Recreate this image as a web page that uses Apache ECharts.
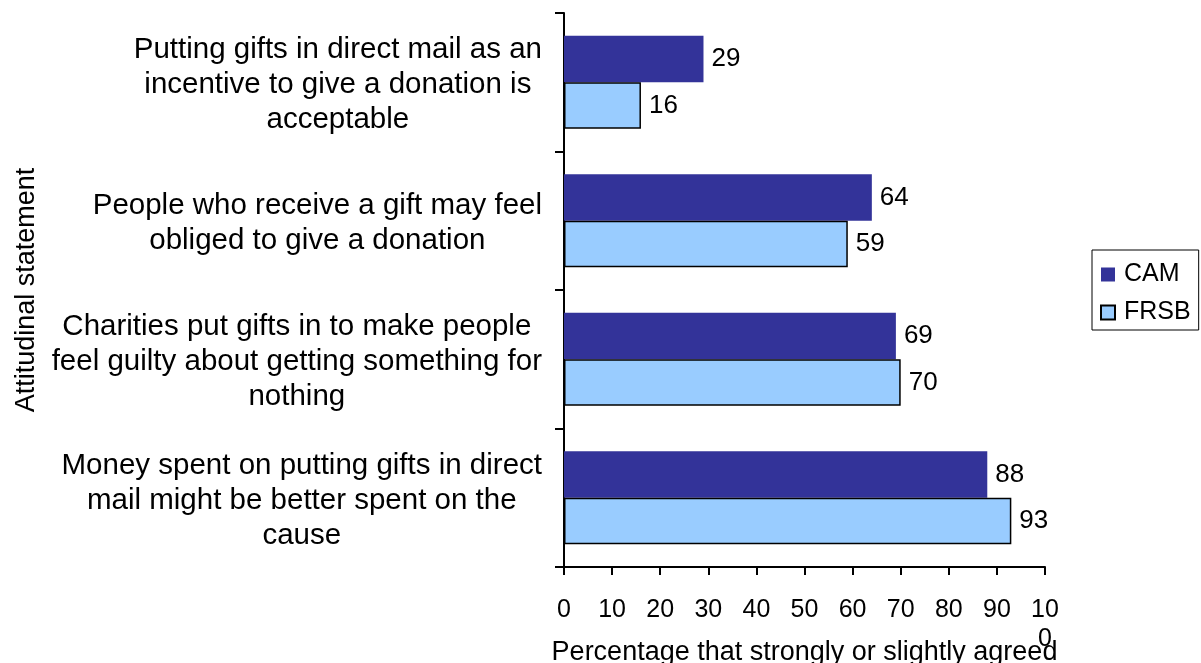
<!DOCTYPE html>
<html>
<head>
<meta charset="utf-8">
<script src="https://cdn.jsdelivr.net/npm/echarts@6/dist/echarts.min.js"></script>
<style>
  html, body { margin: 0; padding: 0; background: #fff; }
  #chart { width: 1201px; height: 663px; }
</style>
</head>
<body>
<div id="chart"></div>
<script>
// Statements, listed top to bottom
const statements = [
  'Putting gifts in direct mail as an\nincentive to give a donation is\nacceptable',
  'People who receive a gift may feel\nobliged to give a donation',
  'Charities put gifts in to make people\nfeel guilty about getting something for\nnothing',
  'Money spent on putting gifts in direct\nmail might be better spent on the\ncause'
];
const camValues = [29, 64, 69, 88];
const frsbValues = [16, 59, 70, 93];
const seriesNames = ['CAM', 'FRSB'];

const FONT = '"Liberation Sans", Arial, sans-serif';
const chart = echarts.init(document.getElementById('chart'), null, { renderer: 'canvas' });

const valueLabel = {
  show: true,
  position: 'right',
  distance: 8,
  color: '#000',
  fontFamily: FONT,
  fontSize: 26,
  padding: [4, 0, 0, 0]
};

chart.setOption({
  animation: false,
  backgroundColor: '#fff',
  textStyle: { fontFamily: FONT, color: '#000' },
  grid: { left: 564, right: 156, top: 13, bottom: 96, containLabel: false, outerBoundsMode: 'none' },
  legend: {
    orient: 'vertical',
    left: 1092,
    top: 250,
    data: seriesNames,
    borderColor: '#000',
    borderWidth: 1,
    padding: [12, 8, 5, 8],
    itemGap: 13,
    itemWidth: 14,
    itemHeight: 14,
    icon: 'rect',
    textStyle: { fontFamily: FONT, fontSize: 25, lineHeight: 25, color: '#000', padding: [0, 0, 0, 4] }
  },
  xAxis: {
    type: 'value',
    min: 0,
    max: 100,
    interval: 10,
    name: 'Percentage that strongly or slightly agreed',
    nameLocation: 'middle',
    nameGap: 72,
    nameMoveOverlap: false,
    nameTextStyle: { fontFamily: FONT, fontSize: 27, color: '#000' },
    axisLine: { show: true, lineStyle: { color: '#000', width: 2 } },
    axisTick: { show: true, length: 8, lineStyle: { color: '#000', width: 2 } },
    splitLine: { show: false },
    axisLabel: {
      margin: 29,
      fontFamily: FONT,
      fontSize: 25,
      lineHeight: 29,
      color: '#000',
      hideOverlap: false,
      formatter: v => (v === 100 ? '10\n0' : String(v))
    }
  },
  yAxis: {
    type: 'category',
    inverse: true,
    data: statements,
    name: 'Attitudinal statement',
    nameLocation: 'middle',
    nameRotate: 90,
    nameGap: 524,
    nameMoveOverlap: false,
    nameTextStyle: { fontFamily: FONT, fontSize: 27, color: '#000' },
    axisLine: { show: true, lineStyle: { color: '#000', width: 2 } },
    axisTick: { show: true, length: 9, lineStyle: { color: '#000', width: 2 } },
    axisLabel: {
      margin: 22,
      align: 'right',
      padding: [6, 0, 0, 0],
      fontFamily: FONT,
      fontSize: 29.5,
      lineHeight: 35,
      color: '#000',
      formatter: v => v.split('\n').map(l => '{c|' + l + '}').join('\n'),
      rich: { c: { align: 'center', fontFamily: FONT, fontSize: 29.5, lineHeight: 35, color: '#000' } }
    }
  },
  series: [
    {
      name: 'CAM',
      type: 'bar',
      data: camValues,
      barGap: '0%',
      barCategoryGap: '33%',
      itemStyle: { color: '#333399' },
      label: valueLabel
    },
    {
      name: 'FRSB',
      type: 'bar',
      data: frsbValues,
      barGap: '0%',
      barCategoryGap: '33%',
      itemStyle: { color: '#99CCFF', borderColor: '#000', borderWidth: 1.5 },
      label: valueLabel
    }
  ]
});
</script>
</body>
</html>
